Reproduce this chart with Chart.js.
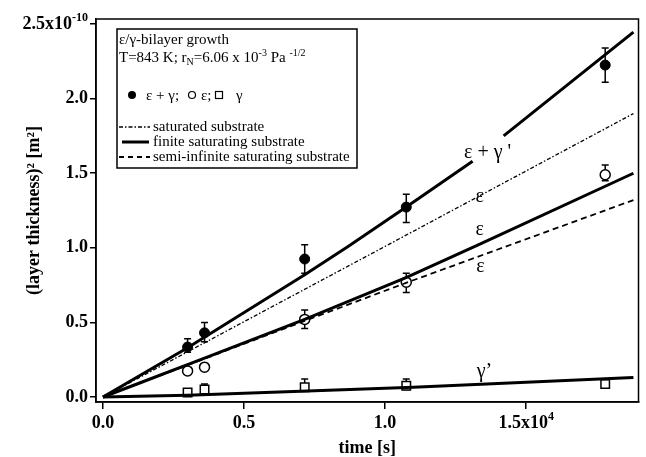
<!DOCTYPE html>
<html>
<head>
<meta charset="utf-8">
<script src="https://cdn.jsdelivr.net/npm/chart.js@4.4.1/dist/chart.umd.min.js"></script>
<style>
  html, body { margin: 0; padding: 0; background: #fff; }
</style>
</head>
<body>
<canvas id="grafik" width="646" height="457"></canvas>
<script>
// waktu pengukuran [s]
const waktu = [3000, 3600, 7150, 10750, 17800];

// (layer thickness)^2 [m^2] - titik hasil ukur
const epsGamma = [0.335e-10, 0.43e-10, 0.925e-10, 1.273e-10, 2.225e-10];
const epsGammaErr = [[0.30e-10, 0.39e-10], [0.37e-10, 0.50e-10], [0.83e-10, 1.02e-10], [1.17e-10, 1.36e-10], [2.11e-10, 2.34e-10]];
const eps = [0.175e-10, 0.20e-10, 0.52e-10, 0.77e-10, 1.49e-10];
const epsErr = [null, null, [0.46e-10, 0.583e-10], [0.70e-10, 0.83e-10], [1.45e-10, 1.555e-10]];
const gamma = [0.03e-10, 0.05e-10, 0.065e-10, 0.075e-10, 0.087e-10];
const gammaErr = [null, [0.03e-10, 0.087e-10], [0.04e-10, 0.12e-10], [0.05e-10, 0.12e-10], null];

// kurva hitungan
const satX = [0, 10200, 18800];
const satY = [0, 1.03e-10, 1.90e-10];
const finEpsGammaX = [0, 3000, 7150, 8700, 10750, 13100, 13650, 14200, 18800];
const finEpsGammaY = [0, 0.33e-10, 0.82e-10, 1.01e-10, 1.273e-10, 1.58e-10, null, 1.75e-10, 2.446e-10];
const finEpsX = [0, 1300, 3600, 7150, 10740, 13300, 18800];
const finEpsY = [0, 0.094e-10, 0.26e-10, 0.52e-10, 0.80e-10, 1.02e-10, 1.50e-10];
const finGammaX = [0, 3000, 11000, 18800];
const finGammaY = [0, 0.012e-10, 0.065e-10, 0.13e-10];
const semiEpsX = [0, 7150, 10740, 18800];
const semiEpsY = [0, 0.51e-10, 0.765e-10, 1.32e-10];

// label sumbu (bagian dasar dan pangkat)
const xTickValues = [0, 5000, 10000, 15000];
const xTickLabels = ['0.0', '0.5', '1.0', '1.5x10'];
const xTickExp = ['', '', '', '4'];
const yTickValues = [0, 0.5e-10, 1.0e-10, 1.5e-10, 2.0e-10, 2.5e-10];
const yTickLabels = ['0.0', '0.5', '1.0', '1.5', '2.0', '2.5x10'];
const yTickExp = ['', '', '', '', '', '-10'];

// label kurva (dalam satuan data)
const labelKurva = [
    { text: "\u03B5 + \u03B3 '", x: 13630, y: 1.64e-10 },
    { text: '\u03B5', x: 13350, y: 1.34e-10 },
    { text: '\u03B5', x: 13350, y: 1.12e-10 },
    { text: '\u03B5', x: 13380, y: 0.87e-10 },
    { text: '\u03B3\u2019', x: 13520, y: 0.17e-10 }
];

const SERIF = '"Liberation Serif", "DejaVu Serif", serif';

function keTitik(xs, ys) {
    return xs.map((x, i) => ({ x: x, y: ys[i] }));
}

// Plugin untuk error bar
const errorBars = {
    id: 'errorBars',
    beforeDatasetsDraw(chart) {
        const ctx = chart.ctx;
        const sx = chart.scales.x, sy = chart.scales.y;
        ctx.save();
        ctx.strokeStyle = '#000';
        ctx.lineWidth = 1.5;
        chart.data.datasets.forEach(ds => {
            if (!ds.errors) return;
            ds.errors.forEach((e, i) => {
                if (!e) return;
                const px = sx.getPixelForValue(ds.data[i].x);
                const lo = sy.getPixelForValue(e[0]);
                const hi = sy.getPixelForValue(e[1]);
                ctx.beginPath();
                ctx.moveTo(px, lo); ctx.lineTo(px, hi);
                ctx.moveTo(px - 3.5, lo); ctx.lineTo(px + 3.5, lo);
                ctx.moveTo(px - 3.5, hi); ctx.lineTo(px + 3.5, hi);
                ctx.stroke();
            });
        });
        ctx.restore();
    }
};

// Plugin untuk bingkai, label tick, label kurva dan kotak keterangan
const hiasan = {
    id: 'hiasan',
    afterDraw(chart) {
        const ctx = chart.ctx;
        const a = chart.chartArea;
        const sx = chart.scales.x, sy = chart.scales.y;
        ctx.save();
        ctx.strokeStyle = '#000';
        ctx.fillStyle = '#000';
        ctx.lineWidth = 1.5;
        ctx.strokeRect(a.left, a.top, a.right - a.left, a.bottom - a.top);

        // label tick dengan pangkat
        const fontDasar = 'bold 18px ' + SERIF;
        const fontPangkat = 'bold 12px ' + SERIF;
        ctx.textBaseline = 'middle';
        ctx.textAlign = 'left';
        yTickValues.forEach((v, i) => {
            const py = sy.getPixelForValue(v);
            ctx.font = fontDasar;
            const wb = ctx.measureText(yTickLabels[i]).width;
            ctx.font = fontPangkat;
            const we = ctx.measureText(yTickExp[i]).width;
            const x0 = a.left - 8 - wb - we;
            ctx.font = fontDasar;
            ctx.fillText(yTickLabels[i], x0, py);
            ctx.font = fontPangkat;
            ctx.fillText(yTickExp[i], x0 + wb, py - 6);
        });
        xTickValues.forEach((v, i) => {
            const px = sx.getPixelForValue(v);
            ctx.font = fontDasar;
            const wb = ctx.measureText(xTickLabels[i]).width;
            ctx.font = fontPangkat;
            const we = ctx.measureText(xTickExp[i]).width;
            const x0 = px - (wb + we) / 2;
            ctx.font = fontDasar;
            ctx.fillText(xTickLabels[i], x0, a.bottom + 21);
            ctx.font = fontPangkat;
            ctx.fillText(xTickExp[i], x0 + wb, a.bottom + 15);
        });

        // label kurva
        ctx.font = '20px ' + SERIF;
        ctx.textAlign = 'center';
        ctx.textBaseline = 'middle';
        labelKurva.forEach(l => {
            ctx.fillText(l.text, sx.getPixelForValue(l.x), sy.getPixelForValue(l.y));
        });

        // kotak keterangan
        ctx.lineWidth = 1.5;
        ctx.strokeRect(117, 29, 240, 139);
        ctx.textAlign = 'left';
        ctx.textBaseline = 'alphabetic';
        ctx.font = '15px ' + SERIF;
        ctx.fillText('\u03B5/\u03B3-bilayer growth', 119, 44);

        // baris kedua dengan subscript / superscript
        let px = 119;
        const tulis = (teks, size, dy) => {
            ctx.font = size + 'px ' + SERIF;
            ctx.fillText(teks, px, 62 + dy);
            px += ctx.measureText(teks).width;
        };
        tulis('T=843 K; r', 15, 0);
        tulis('N', 10, 3);
        tulis('=6.06 x 10', 15, 0);
        tulis('-3', 10, -6);
        tulis(' Pa ', 15, 0);
        tulis('-1/2', 10, -6);

        // baris simbol
        ctx.font = '15px ' + SERIF;
        ctx.beginPath();
        ctx.arc(132, 95, 4, 0, Math.PI * 2);
        ctx.fill();
        ctx.fillText('\u03B5 + \u03B3;', 146, 100);
        ctx.lineWidth = 1.2;
        ctx.beginPath();
        ctx.arc(192, 95, 3.5, 0, Math.PI * 2);
        ctx.stroke();
        ctx.fillText('\u03B5;', 201, 100);
        ctx.strokeRect(215.5, 91.5, 7, 7);
        ctx.fillText('\u03B3', 236, 100);

        // contoh garis
        ctx.lineWidth = 1.3;
        ctx.setLineDash([4, 2, 1.5, 2]);
        ctx.beginPath(); ctx.moveTo(119, 127); ctx.lineTo(150, 127); ctx.stroke();
        ctx.setLineDash([]);
        ctx.lineWidth = 3;
        ctx.beginPath(); ctx.moveTo(122, 142); ctx.lineTo(149, 142); ctx.stroke();
        ctx.lineWidth = 1.8;
        ctx.setLineDash([5, 4]);
        ctx.beginPath(); ctx.moveTo(119, 157); ctx.lineTo(150, 157); ctx.stroke();
        ctx.setLineDash([]);

        ctx.fillText('saturated substrate', 153, 131);
        ctx.fillText('finite saturating substrate', 153, 146);
        ctx.fillText('semi-infinite saturating substrate', 153, 161);
        ctx.restore();
    }
};

const garis = (data, width, dash) => ({
    data: data,
    showLine: true,
    spanGaps: false,
    borderColor: '#000',
    borderWidth: width,
    borderDash: dash,
    pointRadius: 0,
    fill: false
});

const ctx = document.getElementById('grafik').getContext('2d');
window.chart = new Chart(ctx, {
    type: 'scatter',
    data: {
        datasets: [
            garis(keTitik(satX, satY), 1.3, [4, 2, 1.5, 2]),
            garis(keTitik(semiEpsX, semiEpsY), 1.8, [6, 4]),
            garis(keTitik(finEpsGammaX, finEpsGammaY), 3, []),
            garis(keTitik(finEpsX, finEpsY), 3, []),
            garis(keTitik(finGammaX, finGammaY), 3, []),
            {
                label: '\u03B5 + \u03B3',
                data: keTitik(waktu, epsGamma),
                errors: epsGammaErr,
                pointStyle: 'circle',
                pointRadius: 5,
                backgroundColor: '#000',
                borderColor: '#000',
                borderWidth: 1
            },
            {
                label: '\u03B5',
                data: keTitik(waktu, eps),
                errors: epsErr,
                pointStyle: 'circle',
                pointRadius: 5,
                backgroundColor: '#fff',
                borderColor: '#000',
                borderWidth: 1.5
            },
            {
                label: '\u03B3',
                data: keTitik(waktu, gamma),
                errors: gammaErr,
                pointStyle: 'rect',
                pointRadius: 6,
                backgroundColor: '#fff',
                borderColor: '#000',
                borderWidth: 1.5
            }
        ]
    },
    options: {
        responsive: false,
        animation: false,
        layout: { padding: { top: 19, right: 4, left: 0, bottom: 0 } },
        plugins: {
            legend: { display: false },
            tooltip: { enabled: false }
        },
        scales: {
            x: {
                type: 'linear',
                min: -246,
                max: 18980,
                afterBuildTicks: s => { s.ticks = xTickValues.map(v => ({ value: v })); },
                afterFit: s => { s.height = 55; },
                ticks: { display: false },
                grid: { drawOnChartArea: false, drawTicks: true, tickLength: 7, color: '#000', lineWidth: 1.5 },
                border: { display: true, color: '#000', width: 1.5 },
                title: {
                    display: true,
                    text: 'time [s]',
                    color: '#000',
                    padding: { top: 0, bottom: 0 },
                    font: { family: SERIF, size: 18, weight: 'bold', lineHeight: 1 }
                }
            },
            y: {
                type: 'linear',
                min: -0.0335e-10,
                max: 2.534e-10,
                afterBuildTicks: s => { s.ticks = yTickValues.map(v => ({ value: v })); },
                afterFit: s => { s.width = 96; },
                ticks: { display: false },
                grid: { drawOnChartArea: false, drawTicks: true, tickLength: 6, color: '#000', lineWidth: 1.5 },
                border: { display: true, color: '#000', width: 1.5 },
                title: {
                    display: true,
                    text: '(layer thickness)\u00B2 [m\u00B2]',
                    color: '#000',
                    padding: { top: 25, bottom: 0 },
                    font: { family: SERIF, size: 18, weight: 'bold', lineHeight: 1 }
                }
            }
        }
    },
    plugins: [errorBars, hiasan]
});
</script>
</body>
</html>
